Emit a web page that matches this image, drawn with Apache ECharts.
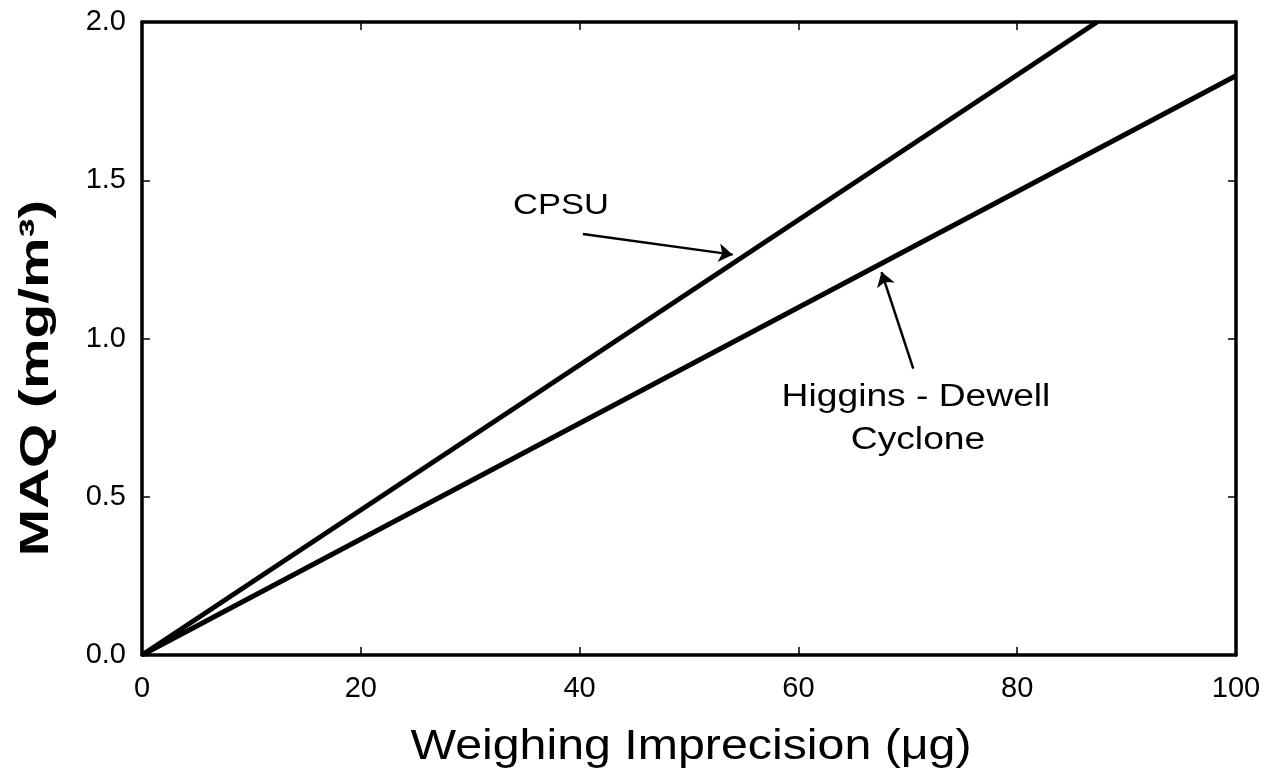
<!DOCTYPE html>
<html>
<head>
<meta charset="utf-8">
<script src="https://cdn.jsdelivr.net/npm/echarts@6/dist/echarts.min.js"></script>
<style>
  html, body { margin: 0; padding: 0; background: #fff; }
  #myChart { width: 1271px; height: 779px; }
</style>
</head>
<body>
<div id="myChart"></div>
<script>
// weighing imprecision (ug) vs MAQ (mg/m3)
var cpsuData = [[0, 0], [87.3, 2.0]];
var higginsData = [[0, 0], [100, 1.83]];
var xTicks = [0, 20, 40, 60, 80, 100];
var yTicks = [0.0, 0.5, 1.0, 1.5, 2.0];

// annotation arrows, in data units
var cpsuArrow = [[40.3, 1.33], [54.0, 1.265]];
var higginsArrow = [[70.5, 0.905], [67.6, 1.21]];

var font = "'Liberation Sans', Arial, sans-serif";
var myChart = echarts.init(document.getElementById("myChart"));

var axisCommon = {
  axisLine: { show: true, onZero: false, lineStyle: { color: "#000", width: 3.5 } },
  axisTick: { show: true, inside: true, length: 8, lineStyle: { color: "#000", width: 1.5 } },
  splitLine: { show: false }
};

myChart.setOption({
  animation: false,
  backgroundColor: "#fff",
  grid: { left: 142, right: 35, top: 22, bottom: 124 },
  xAxis: [
    Object.assign({
      type: "value",
      min: 0, max: 100, interval: 20,
      axisLabel: { fontFamily: font, fontSize: 29, color: "#000", margin: 19,
        formatter: function (v) { return xTicks.indexOf(v) >= 0 ? String(v) : ""; } }
    }, axisCommon),
    Object.assign({
      type: "value", position: "top", min: 0, max: 100, interval: 20,
      axisLabel: { show: false }
    }, axisCommon)
  ],
  yAxis: [
    Object.assign({
      type: "value",
      min: 0, max: 2, interval: 0.5,
      axisLabel: { fontFamily: font, fontSize: 29, color: "#000", margin: 16,
        formatter: function (v) { return yTicks.indexOf(v) >= 0 ? v.toFixed(1) : ""; } }
    }, axisCommon),
    Object.assign({
      type: "value", position: "right", min: 0, max: 2, interval: 0.5,
      axisLabel: { show: false }
    }, axisCommon)
  ],
  series: [
    {
      name: "CPSU",
      type: "line",
      data: cpsuData,
      symbol: "none",
      lineStyle: { color: "#000", width: 5 },
      markLine: {
        silent: true,
        symbol: ["none", "arrow"],
        symbolSize: 14,
        lineStyle: { color: "#000", width: 2.5, type: "solid" },
        label: { show: false },
        data: [[{ coord: cpsuArrow[0] }, { coord: cpsuArrow[1] }]]
      }
    },
    {
      name: "Higgins - Dewell Cyclone",
      type: "line",
      data: higginsData,
      symbol: "none",
      lineStyle: { color: "#000", width: 5 },
      markLine: {
        silent: true,
        symbol: ["none", "arrow"],
        symbolSize: 14,
        lineStyle: { color: "#000", width: 2.5, type: "solid" },
        label: { show: false },
        data: [[{ coord: higginsArrow[0] }, { coord: higginsArrow[1] }]]
      }
    }
  ],
  graphic: [
    // axis titles
    { type: "text", x: 691, y: 747, scaleX: 1.15,
      style: { text: "Weighing Imprecision (\u03bcg)", fontFamily: font, fontSize: 42, fill: "#000",
        align: "center", verticalAlign: "middle" } },
    { type: "text", x: 37, y: 378, rotation: Math.PI / 2, scaleX: 1.42,
      style: { text: "MAQ (mg/m\u00b3)", fontFamily: font, fontSize: 40, fontWeight: "bold", fill: "#000",
        align: "center", verticalAlign: "middle" } },
    // annotations
    { type: "text", x: 561, y: 206, scaleX: 1.15,
      style: { text: "CPSU", fontFamily: font, fontSize: 30, fill: "#000",
        align: "center", verticalAlign: "middle" } },
    { type: "text", x: 916, y: 397, scaleX: 1.2,
      style: { text: "Higgins - Dewell", fontFamily: font, fontSize: 31, fill: "#000",
        align: "center", verticalAlign: "middle" } },
    { type: "text", x: 918, y: 440, scaleX: 1.2,
      style: { text: "Cyclone", fontFamily: font, fontSize: 31, fill: "#000",
        align: "center", verticalAlign: "middle" } }
  ]
});
</script>
</body>
</html>
